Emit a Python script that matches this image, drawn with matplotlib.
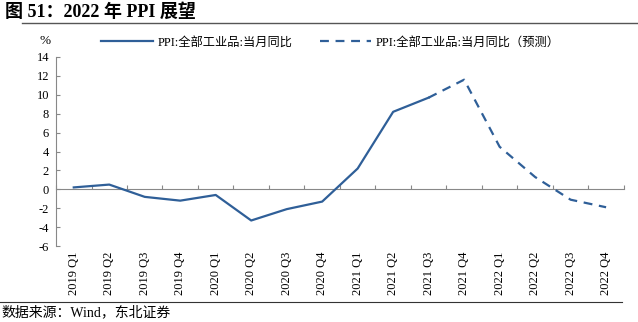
import matplotlib.pyplot as plt

plt.rcParams['font.family'] = ['Liberation Serif', 'Noto Sans CJK SC']
plt.rcParams['axes.unicode_minus'] = False

quarters = ['2019 Q1', '2019 Q2', '2019 Q3', '2019 Q4',
            '2020 Q1', '2020 Q2', '2020 Q3', '2020 Q4',
            '2021 Q1', '2021 Q2', '2021 Q3', '2021 Q4',
            '2022 Q1', '2022 Q2', '2022 Q3', '2022 Q4']
actual = [0.2, 0.5, -0.8, -1.2, -0.6, -3.3, -2.1, -1.3, 2.2, 8.2, 9.7]
forecast = [9.7, 11.6, 4.5, 1.3, -1.1, -1.9]
yticks = list(range(-6, 16, 2))

color = '#2F5F98'
grey = '#888888'

fig = plt.figure(figsize=(6.38, 3.22), dpi=100)
ax = fig.add_axes([0.0878, 0.236, 0.890, 0.587])

x_act = list(range(len(actual)))
x_fc = list(range(len(actual) - 1, len(quarters)))
ax.plot(x_act, actual, color=color, lw=1.6, label='PPI:全部工业品:当月同比')
ax.plot(x_fc, forecast, color=color, lw=1.6, ls=(0, (4, 3)),
        label='PPI:全部工业品:当月同比（预测）')

ax.set_xlim(-0.5, len(quarters) - 0.5)
ax.set_ylim(-6, 14)
ax.set_yticks(yticks)
ax.set_yticklabels([str(v) for v in yticks], fontsize=9)
ax.set_xticks(range(len(quarters)))
ax.set_xticklabels(quarters, rotation=90, fontsize=9)
ax.tick_params(axis='x', length=0, pad=4)
ax.tick_params(axis='y', direction='in', length=3, color=grey, pad=5)

for s in ['top', 'right', 'bottom']:
    ax.spines[s].set_visible(False)
ax.spines['left'].set_color(grey)

# zero line with category ticks
zero = ax.secondary_xaxis(6 / 20)
zero.set_xticks([i - 0.5 for i in range(len(quarters) + 1)])
zero.set_xticklabels([])
zero.tick_params(direction='in', length=3, color=grey)
zero.spines['bottom'].set_color(grey)

ax.text(-0.02, 1.07, '%', transform=ax.transAxes, fontsize=9.5, ha='center')

ax.legend(loc='lower left', bbox_to_anchor=(0.065, 1.0), ncol=2, frameon=False,
          fontsize=8.8, handlelength=4.2, handletextpad=0.4, columnspacing=2.2,
          borderaxespad=0.3)

fig.text(0.008, 0.962, '图 51：2022 年 PPI 展望', fontsize=13, fontweight='bold',
         va='center', ha='left')
fig.add_artist(plt.Line2D([0.035, 1.0], [0.928, 0.928], color='#555555', lw=1))
fig.add_artist(plt.Line2D([0.0, 0.975], [0.062, 0.062], color='#333333', lw=0.8))
fig.text(0.003, 0.03, '数据来源：Wind，东北证券', fontsize=10, va='center', ha='left')

fig.savefig('out.png', dpi=100)
